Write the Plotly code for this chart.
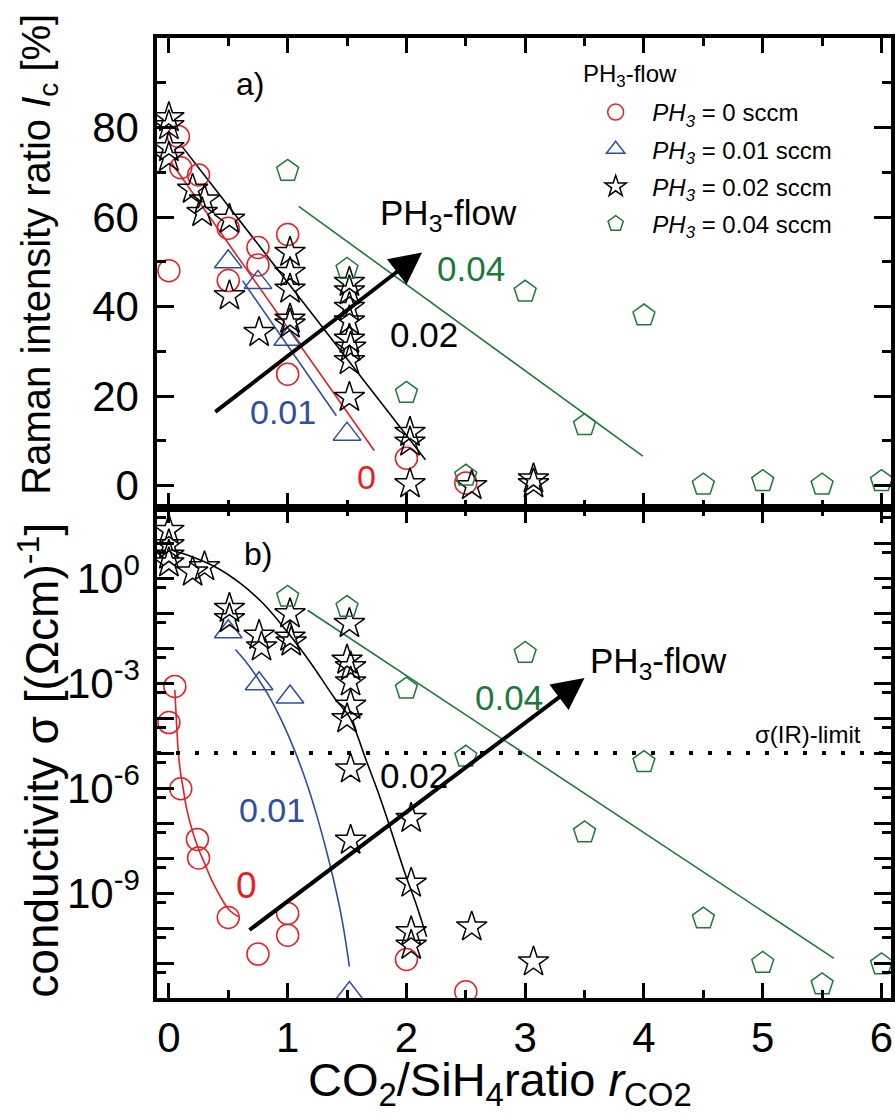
import plotly.graph_objects as go

# ---------------- data: panel a) Raman intensity ratio Ic [%] ----------------
a_r0_x = [0, 0.08, 0.1, 0.25, 0.5, 0.5, 0.75, 0.75, 1.0, 1.0, 2.0, 2.5]
a_r0_y = [48, 78, 71, 69.4, 57.5, 45.8, 53.2, 49.3, 56.1, 24.9, 6.1, 0.6]
a_r1_x = [0.5, 0.75, 1.0, 1.5]
a_r1_y = [50, 45.4, 32.7, 11.5]
a_r2_x = [0, 0, 0, 0, 0.2, 0.3, 0.28, 0.51, 0.51, 0.76, 1.02, 1.02, 1.02, 1.02, 1.02,
          1.52, 1.52, 1.52, 1.52, 1.52, 1.53, 1.52, 1.52, 2.03, 2.03, 2.03, 2.55, 3.07, 3.07]
a_r2_y = [82.2, 80.4, 75.5, 73.3, 66.2, 63.8, 61.0, 59.5, 42.4, 34.2, 52.1, 47.6, 43.9, 37.2, 36.1,
          45.4, 43.5, 39.8, 36.8, 32.7, 30.9, 27.9, 19.7, 11.9, 9.7, 0.4, 0.0, 1.5, 0.4]
a_r4_x = [1.0, 1.5, 2.0, 2.5, 3.0, 3.5, 4.0, 4.5, 5.0, 5.5, 6.0]
a_r4_y = [70.3, 48.4, 20.7, 2.2, 43.3, 13.5, 38.0, 0.2, 1.0, 0.2, 1.0]

# linear fits (end points)
a_fit0_x = [0.02, 1.73];  a_fit0_y = [72.2, 7.8]
a_fit1_x = [0.62, 1.41];  a_fit1_y = [45.8, 15.6]
a_fit2_x = [0.107, 2.16]; a_fit2_y = [75.9, 5.8]
a_fit4_x = [1.093, 3.99]; a_fit4_y = [62.4, 6.6]

# ---------------- data: panel b) conductivity sigma [(Ohm cm)^-1] ----------------
b_r0_x = [0.05, 0, 0.1, 0.24, 0.25, 0.5, 1.0, 1.0, 0.75, 2.0, 2.5]
b_r0_y = [8e-4, 7.4e-5, 9.5e-7, 3.4e-8, 1.0e-8, 2.0e-10, 2.6e-10, 6.2e-11, 1.8e-11, 1.26e-11, 1.5e-12]
b_r1_x = [0.5, 0.76, 1.02, 1.52]
b_r1_y = [2.9e-2, 9.5e-4, 4.0e-4, 1.35e-12]
b_r2_x = [0, 0, 0, 0, 0.2, 0.3, 0.51, 0.51, 0.76, 0.78, 1.02, 1.02, 1.03,
          1.52, 1.5, 1.53, 1.53, 1.53, 1.5, 1.53, 1.53, 2.04, 2.04, 2.04, 2.04, 2.55, 3.07]
b_r2_y = [22.9, 8.9, 4.5, 2.7, 1.48, 2.1, 0.135, 0.069, 0.023, 0.0107, 0.095, 0.0204, 0.0148,
          0.05, 4.5e-3, 2.9e-3, 1.07e-3, 2.3e-4, 9.5e-5, 3.5e-6, 3.2e-8, 1.35e-7, 1.9e-9, 7.8e-11,
          3.2e-11, 1.07e-10, 1.07e-11]
b_r4_x = [1.0, 1.5, 2.0, 2.5, 3.0, 3.5, 4.0, 4.5, 5.0, 5.5, 6.0]
b_r4_y = [0.29, 0.148, 6.9e-4, 7.8e-6, 7.2e-3, 5.4e-8, 5.5e-6, 1.86e-10, 1.0e-11, 2.45e-12, 9.1e-12]

# fit curves
b_fit0_x = [0.05, 0.065, 0.08, 0.10, 0.12, 0.15, 0.20, 0.25, 0.30, 0.35, 0.40, 0.45, 0.50, 0.55, 0.59]
b_fit0_y = [6.3e-4, 6.3e-5, 1.0e-5, 2.5e-6, 1.0e-6, 2.5e-7, 5.6e-8, 1.8e-8, 7.1e-9, 2.8e-9,
            1.26e-9, 6.3e-10, 3.5e-10, 2.5e-10, 2.1e-10]
b_fit1_x = [0.56, 0.65, 0.75, 0.85, 0.95, 1.05, 1.15, 1.25, 1.35, 1.45, 1.52]
b_fit1_y = [9.1e-3, 4.0e-3, 1.35e-3, 3.8e-4, 8.3e-5, 1.4e-5, 1.74e-6, 1.45e-7, 7.8e-9, 2.4e-10, 7.9e-12]
b_fit2_x = [0.02, 0.2, 0.4, 0.6, 0.8, 1.0, 1.2, 1.4, 1.52, 1.66, 1.77, 1.85, 1.99, 2.09, 2.17]
b_fit2_y = [6.3, 4.0, 2.0, 0.71, 0.178, 2.8e-2, 3.5e-3, 3.5e-4, 1.07e-4, 6.3e-6, 6.3e-7, 1.0e-7,
            3.5e-9, 4.0e-10, 5.6e-11]
b_fit4_x = [1.168, 5.6]
b_fit4_y = [0.12, 1.35e-11]

sigma_ir_limit = 1e-5

series_names = ["\u00a0<i>PH<sub>3</sub></i> = 0 sccm", "\u00a0<i>PH<sub>3</sub></i> = 0.01 sccm",
                "\u00a0<i>PH<sub>3</sub></i> = 0.02 sccm", "\u00a0<i>PH<sub>3</sub></i> = 0.04 sccm"]

RED = "#ed1c24"
BLUE = "#2d4ea3"
BLACK = "#000000"
GREEN = "#1b7a3a"
FONT = "Liberation Sans, Arial, sans-serif"

fig = go.Figure()

def markers(x, y, name, symbol, color, size, xa, ya, show):
    fig.add_trace(go.Scatter(x=x, y=y, mode="markers", name=name, showlegend=show,
                             legendgroup=name, xaxis=xa, yaxis=ya,
                             marker=dict(symbol=symbol, size=size, color=color,
                                         line=dict(color=color, width=1.5))))

def line(x, y, color, xa, ya, shape="linear"):
    fig.add_trace(go.Scatter(x=x, y=y, mode="lines", showlegend=False, xaxis=xa, yaxis=ya,
                             line=dict(color=color, width=1.6, shape=shape)))

# panel a lines
line(a_fit0_x, a_fit0_y, RED, "x", "y")
line(a_fit1_x, a_fit1_y, BLUE, "x", "y")
line(a_fit2_x, a_fit2_y, BLACK, "x", "y")
line(a_fit4_x, a_fit4_y, GREEN, "x", "y")
# panel b lines
line(b_fit0_x, b_fit0_y, RED, "x2", "y2", "spline")
line(b_fit1_x, b_fit1_y, BLUE, "x2", "y2", "spline")
line(b_fit2_x, b_fit2_y, BLACK, "x2", "y2", "spline")
line(b_fit4_x, b_fit4_y, GREEN, "x2", "y2")
fig.add_trace(go.Scatter(x=[-0.1, 6.08], y=[sigma_ir_limit, sigma_ir_limit], mode="lines",
                         showlegend=False, xaxis="x2", yaxis="y2",
                         line=dict(color="black", width=4, dash="4px,15px")))

# markers
markers(a_r0_x, a_r0_y, series_names[0], "circle-open", RED, 22, "x", "y", True)
markers(a_r1_x, a_r1_y, series_names[1], "triangle-up-open", BLUE, 24, "x", "y", True)
markers(a_r2_x, a_r2_y, series_names[2], "star-open", BLACK, 23, "x", "y", True)
markers(a_r4_x, a_r4_y, series_names[3], "pentagon-open", GREEN, 23, "x", "y", True)
markers(b_r0_x, b_r0_y, series_names[0], "circle-open", RED, 22, "x2", "y2", False)
markers(b_r1_x, b_r1_y, series_names[1], "triangle-up-open", BLUE, 24, "x2", "y2", False)
markers(b_r2_x, b_r2_y, series_names[2], "star-open", BLACK, 23, "x2", "y2", False)
markers(b_r4_x, b_r4_y, series_names[3], "pentagon-open", GREEN, 23, "x2", "y2", False)

# ---------------- axes ----------------
x_ticks = [0, 1, 2, 3, 4, 5, 6]
x_minor = [0.5, 1.5, 2.5, 3.5, 4.5, 5.5]
a_ticks = [0, 20, 40, 60, 80]
a_minor = [10, 30, 50, 70, 90]
b_ticks = [10.0 ** e for e in range(-12, 3)]
b_labels = {0: "10<sup>0</sup>", -3: "10<sup>-3</sup>", -6: "10<sup>-6</sup>", -9: "10<sup>-9</sup>"}
b_text = [b_labels.get(e, "") for e in range(-12, 3)]
b_minor = [0.553 * 10.0 ** e for e in range(-11, 3)]

axis_common = dict(showline=True, linewidth=3.5, linecolor="black", mirror="ticks",
                   ticks="inside", tickwidth=3, tickcolor="black", showgrid=False,
                   zeroline=False, tickfont=dict(family=FONT, size=42, color="black"))

H = 960.0
split = 490.0 / H
fig.update_layout(
    width=895, height=1115,
    margin=dict(l=157, r=0, t=38, b=117, pad=0),
    paper_bgcolor="white", plot_bgcolor="white",
    xaxis=dict(axis_common, domain=[0, 1], anchor="y", range=[-0.1, 6.08],
               tickmode="array", tickvals=x_ticks, ticklen=15, showticklabels=False,
               minor=dict(tickmode="array", tickvals=x_minor, ticklen=8, tickwidth=3,
                          ticks="inside", tickcolor="black")),
    yaxis=dict(axis_common, domain=[split, 1], anchor="x", range=[-5, 100],
               tickmode="array", tickvals=a_ticks, ticklen=17, ticklabelstandoff=6,
               minor=dict(tickmode="array", tickvals=a_minor, ticklen=9, tickwidth=3,
                          ticks="inside", tickcolor="black")),
    xaxis2=dict(axis_common, domain=[0, 1], anchor="y2", range=[-0.1, 6.08], matches="x",
                tickmode="array", tickvals=x_ticks, ticklen=15, ticklabelstandoff=0,
                minor=dict(tickmode="array", tickvals=x_minor, ticklen=8, tickwidth=3,
                           ticks="inside", tickcolor="black")),
    yaxis2=dict(axis_common, domain=[0, split], anchor="x2", type="log", range=[-12, 2],
                tickmode="array", tickvals=b_ticks, ticktext=b_text, ticklen=17,
                ticklabelstandoff=5,
                minor=dict(tickmode="array", tickvals=b_minor, ticklen=9, tickwidth=3,
                           ticks="inside", tickcolor="black")),
    legend=dict(x=(588 - 157) / 738.0, y=(998 - 90) / H, xanchor="left", yanchor="top",
                bgcolor="rgba(0,0,0,0)",
                font=dict(family=FONT, size=24, color="black"),
                itemwidth=50, tracegroupgap=3),
    showlegend=True,
)

def px_x(p):
    return (p - 157) / 738.0

def px_y(p):
    return (998 - p) / H

ann = []
# axis titles
ann.append(dict(text="Raman intensity ratio <i>I</i><sub>c</sub> [%]", xref="paper", yref="paper",
                x=px_x(38), y=px_y(254), textangle=-90, showarrow=False,
                xanchor="center", yanchor="middle", font=dict(family=FONT, size=40, color="black")))
ann.append(dict(text="conductivity σ [(Ωcm)<sup>-1</sup>]", xref="paper", yref="paper",
                x=px_x(38), y=px_y(760), textangle=-90, showarrow=False,
                xanchor="center", yanchor="middle", font=dict(family=FONT, size=46, color="black")))
ann.append(dict(text="CO<sub>2</sub>/SiH<sub>4</sub>ratio <i>r</i><sub>CO2</sub>", xref="paper",
                yref="paper", x=px_x(502), y=px_y(1083), showarrow=False,
                xanchor="center", yanchor="middle", font=dict(family=FONT, size=47, color="black")))
# legend heading
ann.append(dict(text="PH<sub>3</sub>-flow", xref="paper", yref="paper", x=px_x(583), y=px_y(75),
                showarrow=False, xanchor="left", yanchor="middle",
                font=dict(family=FONT, size=24, color="black")))

def txt(s, x, y, color, size, xr, yr):
    ann.append(dict(text=s, x=x, y=y, xref=xr, yref=yr, showarrow=False, xanchor="center",
                    yanchor="middle", font=dict(family=FONT, size=size, color=color)))

# panel a texts
txt("a)", 0.68, 89.7, "black", 32, "x", "y")
txt("PH<sub>3</sub>-flow", 2.356, 60.5, "black", 35, "x", "y")
txt("0.04", 2.54, 48.6, GREEN, 35, "x", "y")
txt("0.02", 2.15, 33.7, "black", 35, "x", "y")
txt("0.01", 0.965, 16.4, BLUE, 34, "x", "y")
txt("0", 1.66, 1.9, RED, 34, "x", "y")
# panel b texts (log axis -> log10 coordinates)
txt("b)", 0.75, 0.70, "black", 32, "x2", "y2")
txt("PH<sub>3</sub>-flow", 4.12, -2.42, "black", 35, "x2", "y2")
txt("0.04", 2.866, -3.4, GREEN, 35, "x2", "y2")
txt("0.02", 2.063, -5.64, "black", 35, "x2", "y2")
txt("0.01", 0.868, -6.64, BLUE, 34, "x2", "y2")
txt("0", 0.652, -8.78, RED, 37, "x2", "y2")
txt("σ(IR)-limit", 5.38, -4.47, "black", 24, "x2", "y2")

# arrows
ann.append(dict(x=2.132, y=52.1, ax=0.378, ay=16.2, xref="x", yref="y", axref="x", ayref="y",
                showarrow=True, arrowhead=2, arrowsize=1.6, arrowwidth=4, arrowcolor="black",
                text=""))
ann.append(dict(x=3.5, y=-2.86, ax=0.666, ay=-10.09, xref="x2", yref="y2", axref="x2", ayref="y2",
                showarrow=True, arrowhead=2, arrowsize=1.6, arrowwidth=4, arrowcolor="black",
                text=""))

fig.update_layout(annotations=ann)
# remove the page's default 8px body margin so the figure fills the window exactly
fig.write_html("out.html", config={"displayModeBar": False},
               post_script="document.body.style.margin='0px';document.body.style.overflow='hidden';")
